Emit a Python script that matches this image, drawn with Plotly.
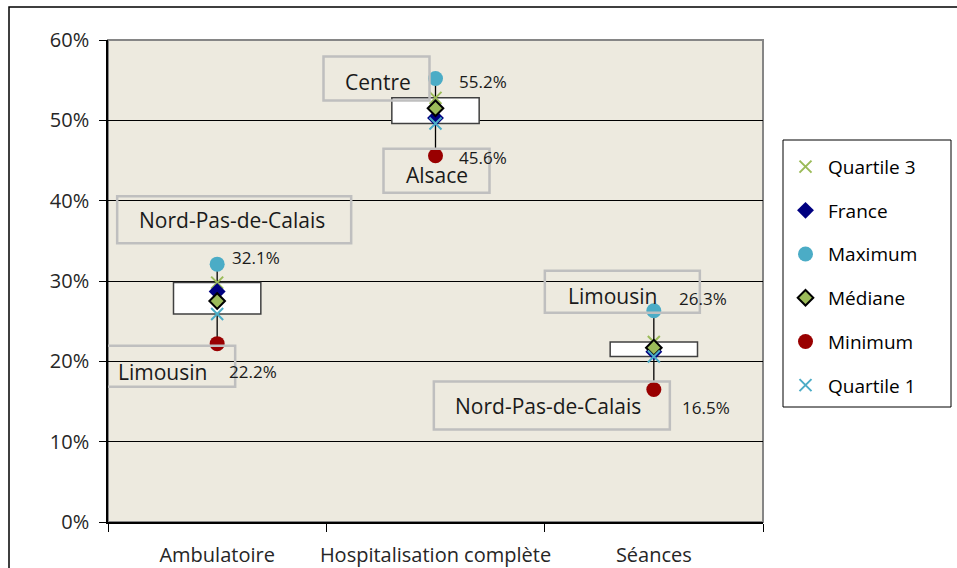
import plotly.graph_objects as go

# ---------------- data ----------------
categories = ["Ambulatoire", "Hospitalisation complète", "Séances"]
quartile3 = [29.8, 52.8, 22.4]
france = [28.7, 50.3, 21.2]
maximum = [32.1, 55.2, 26.3]
mediane = [27.5, 51.5, 21.7]
minimum = [22.2, 45.6, 16.5]
quartile1 = [25.9, 49.6, 20.6]
max_regions = ["Nord-Pas-de-Calais", "Centre", "Limousin"]
min_regions = ["Limousin", "Alsace", "Nord-Pas-de-Calais"]
y_ticks = [0, 10, 20, 30, 40, 50, 60]

# ---------------- geometry / style ----------------
W, H = 957, 568
ML, MR, MT, MB = 108, 194, 40, 46
PW, PH = W - ML - MR, H - MT - MB
FONT = "Open Sans"

fig = go.Figure()

# whiskers (drawn as two segments so the box hides nothing)
wx, wy = [], []
for i in range(len(categories)):
    wx += [categories[i], categories[i], None, categories[i], categories[i], None]
    wy += [maximum[i], quartile3[i], None, quartile1[i], minimum[i], None]
fig.add_trace(go.Scatter(x=wx, y=wy, mode="lines", line=dict(color="black", width=1.3),
                         showlegend=False, hoverinfo="skip"))

# boxes Q1..Q3
fig.add_trace(go.Bar(x=categories, y=[q3 - q1 for q3, q1 in zip(quartile3, quartile1)],
                     base=quartile1, width=0.4,
                     marker=dict(color="white", line=dict(color="#404040", width=1.5)),
                     showlegend=False, hoverinfo="skip"))

series = [
    ("Quartile 3", quartile3, dict(symbol="x-thin", size=12, color="#9BBB59",
                                   line=dict(color="#9BBB59", width=2))),
    ("France", france, dict(symbol="diamond", size=13, color="#000080",
                            line=dict(color="#000080", width=0))),
    ("Maximum", maximum, dict(symbol="circle", size=15, color="#4BACC6",
                              line=dict(color="#4BACC6", width=0))),
    ("Médiane", mediane, dict(symbol="diamond", size=12, color="#9BBB59",
                              line=dict(color="black", width=2))),
    ("Minimum", minimum, dict(symbol="circle", size=15, color="#990000",
                              line=dict(color="#990000", width=0))),
    ("Quartile 1", quartile1, dict(symbol="x-thin", size=12, color="#4BACC6",
                                   line=dict(color="#4BACC6", width=2))),
]
for k, (name, vals, mk) in enumerate(series):
    fig.add_trace(go.Scatter(x=categories, y=vals, mode="markers", name=name, marker=mk,
                             legendgroup=f"g{k}", hoverinfo="skip"))

# ---------------- labels ----------------
# pixel offsets relative to the marker: box (x0, x1, y0, y1), name text (dx, dy), value text (dx, dy)
max_style = [((-100, 134, 21, 68), (-80, 44), (13, 7)),
             ((-112, -6, -22, 22), (-93, -3), (21, -3)),
             ((-109, 46, -2, 40), (-88, 15), (23, 12))]
min_style = [((-121, 18, -43, -2), (-101, -28), (10, -28)),
             ((-52, 54, -37, 7), (-32, -19), (21, -2)),
             ((-220, 16, -40, 8), (-201, -17), (26, -18))]

for vals, regions, styles in [(maximum, max_regions, max_style), (minimum, min_regions, min_style)]:
    for i, (v, reg, st) in enumerate(zip(vals, regions, styles)):
        (x0, x1, y0, y1), (tdx, tdy), (pdx, pdy) = st
        fig.add_shape(type="rect", xref="x", yref="y", xsizemode="pixel", ysizemode="pixel",
                      xanchor=i, yanchor=v, x0=x0, x1=x1, y0=y0, y1=y1,
                      line=dict(color="#BFBFBF", width=2.5), fillcolor="rgba(0,0,0,0)",
                      layer="above")
        fig.add_annotation(x=i, y=v, xref="x", yref="y", text=reg, showarrow=False,
                           xanchor="left", yanchor="middle", xshift=tdx, yshift=tdy,
                           font=dict(family=FONT, size=21, color="#1a1a1a"))
        fig.add_annotation(x=i, y=v, xref="x", yref="y", text=f"{v:.1f}%", showarrow=False,
                           xanchor="left", yanchor="middle", xshift=pdx, yshift=pdy,
                           font=dict(family=FONT, size=17, color="#1a1a1a"))

# plot-area border (grey top/right) and outer chart frame
fig.add_shape(type="rect", xref="paper", yref="paper", x0=0, x1=1, y0=0, y1=1,
              line=dict(color="#868686", width=2), layer="below")
fig.add_shape(type="rect", xref="paper", yref="paper",
              x0=(9 - ML) / PW, x1=1.6, y0=-0.6, y1=(MT + PH - 7) / PH,
              line=dict(color="black", width=1.5), layer="below")

# legend frame (wider than plotly's own legend box)
LEG_L, LEG_R, LEG_T, LEG_B = 783, 951, 140, 407
fig.add_shape(type="rect", xref="paper", yref="paper",
              x0=(LEG_L - ML) / PW, x1=(LEG_R - ML) / PW,
              y0=(MT + PH - LEG_B) / PH, y1=(MT + PH - LEG_T) / PH,
              line=dict(color="black", width=1), fillcolor="white", layer="above")

fig.update_layout(
    width=W, height=H,
    margin=dict(l=ML, r=MR, t=MT, b=MB, autoexpand=False),
    paper_bgcolor="white", plot_bgcolor="#EDEADF",
    font=dict(family=FONT, color="#262626"),
    barmode="overlay",
    showlegend=True,
    legend=dict(x=(LEG_L - ML) / PW, y=(MT + PH - LEG_T) / PH, xanchor="left", yanchor="top",
                bgcolor="rgba(0,0,0,0)", borderwidth=0,
                font=dict(family=FONT, size=19, color="black"),
                title=dict(text=" ", font=dict(size=6)),
                tracegroupgap=16, itemclick=False, itemwidth=35),
    xaxis=dict(type="category", tickson="boundaries", ticks="outside", ticklen=8,
               tickcolor="black", showline=True, linecolor="black", linewidth=1.5,
               showgrid=False, tickfont=dict(family=FONT, size=20, color="#262626"),
               tickangle=0, ticklabelstandoff=14, range=[-0.5, 2.5], fixedrange=True),
    yaxis=dict(range=[0, 60], tickvals=y_ticks, ticktext=[f"{t}%" for t in y_ticks],
               ticks="outside", ticklen=7, tickcolor="black", showline=True,
               linecolor="black", linewidth=1.5, showgrid=True, gridcolor="black",
               gridwidth=1, zeroline=False, ticklabelstandoff=6,
               tickfont=dict(family=FONT, size=20, color="#262626"), fixedrange=True),
)

fig.write_html("out.html", config={"displayModeBar": False},
               post_script="document.body.style.margin='0';")
